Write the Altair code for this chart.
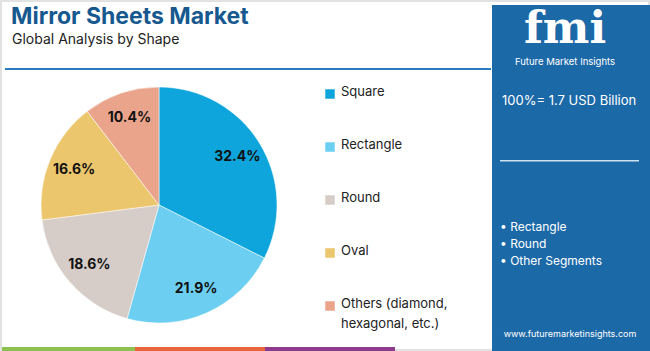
import altair as alt
import pandas as pd

categories = ["Square", "Rectangle", "Round", "Oval", "Others"]
legend_labels = ["Square", "Rectangle", "Round", "Oval", "Others (diamond,\nhexagonal, etc.)"]
shares = [32.4, 21.9, 18.6, 16.6, 10.4]
colors = ["#0ea5dc", "#6ccff1", "#d6ccc8", "#ecc66c", "#eaa48b"]
panel_bullets = ["• Rectangle", "• Round", "• Other Segments"]
market_total = "100%= 1.7 USD Billion"

df = pd.DataFrame({
    "category": categories,
    "legend": legend_labels,
    "share": shares,
    "order": list(range(len(categories))),
    "label": [f"{v:.1f}%" for v in shares],
})

W, H = 650, 351
FONT = "Inter"
color_scale = alt.Scale(domain=categories, range=colors)

base = alt.Chart(df)

# border
border = alt.Chart(pd.DataFrame({"a": [0]})).mark_rect(
    fill="white", stroke="#d9d9d9", strokeWidth=1.5
).encode(x=alt.value(1), x2=alt.value(W - 1), y=alt.value(1), y2=alt.value(H - 1))

pie = base.mark_arc(outerRadius=118, stroke="white", strokeWidth=0.5).encode(
    theta=alt.Theta("share:Q", stack=True),
    color=alt.Color("category:N", scale=color_scale, legend=None),
    order=alt.Order("order:Q"),
    x=alt.value(159), y=alt.value(205),
)
pie_labels = base.mark_text(radius=92, font=FONT, fontWeight="bold", fontSize=14, color="#111111").encode(
    theta=alt.Theta("share:Q", stack=True),
    order=alt.Order("order:Q"),
    text="label:N",
    x=alt.value(159), y=alt.value(205),
)

ypos = alt.Y("category:N", scale=alt.Scale(domain=categories, range=[94, 306], padding=0), axis=None)
leg_sq = base.mark_square(size=90, opacity=1).encode(
    x=alt.value(330), y=ypos,
    color=alt.Color("category:N", scale=color_scale, legend=None),
)
leg_txt = base.mark_text(align="left", baseline="top", dy=-8, font=FONT, fontSize=13,
                         color="#222222", lineBreak="\n", lineHeight=20).encode(
    x=alt.value(341), y=ypos, text="legend:N",
)

def txt(s, x, y, size, color="#222222", weight="normal", align="left", font=FONT):
    return alt.Chart(pd.DataFrame({"t": [s]})).mark_text(
        align=align, baseline="middle", fontSize=size, color=color, fontWeight=weight, font=font
    ).encode(x=alt.value(x), y=alt.value(y), text="t:N")

def rect(x, x2, y, y2, color):
    return alt.Chart(pd.DataFrame({"a": [0]})).mark_rect(color=color).encode(
        x=alt.value(x), x2=alt.value(x2), y=alt.value(y), y2=alt.value(y2))

title = txt("Mirror Sheets Market", 11, 17, 23, color="#17598f", weight="bold")
subtitle = txt("Global Analysis by Shape", 12, 40, 14, color="#222222")
header_line = rect(5, 491, 68, 70, "#2b7bbd")

strip = (rect(2, 135, 347, 351, "#8cc152") + rect(135, 265, 347, 351, "#e8663a")
         + rect(265, 395, 347, 351, "#8e3a8e"))

panel = rect(492, 650, 5, 351, "#1c69a8")
logo = txt("fmi", 565, 30, 44, color="white", weight="bold", align="center", font="DejaVu Serif")
logo_sub = txt("Future Market Insights", 565, 62, 9.5, color="white", align="center")
total = txt(market_total, 502, 101, 13, color="white")
panel_line = rect(500, 639, 160, 161.5, "#d0e2f0")
bullets = alt.layer(*[txt(b, 500, 227 + 17 * i, 12, color="white") for i, b in enumerate(panel_bullets)])
url = txt("www.futuremarketinsights.com", 570, 334, 9, color="white", align="center")

chart = alt.layer(
    border, pie, pie_labels, leg_sq, leg_txt, title, subtitle, header_line, strip,
    panel, logo, logo_sub, total, panel_line, bullets, url,
).properties(
    width=W, height=H, padding=0, autosize=alt.AutoSizeParams(type="none")
).configure_view(stroke=None)

chart.save("out.html", embed_options={"renderer": "svg", "actions": False})
